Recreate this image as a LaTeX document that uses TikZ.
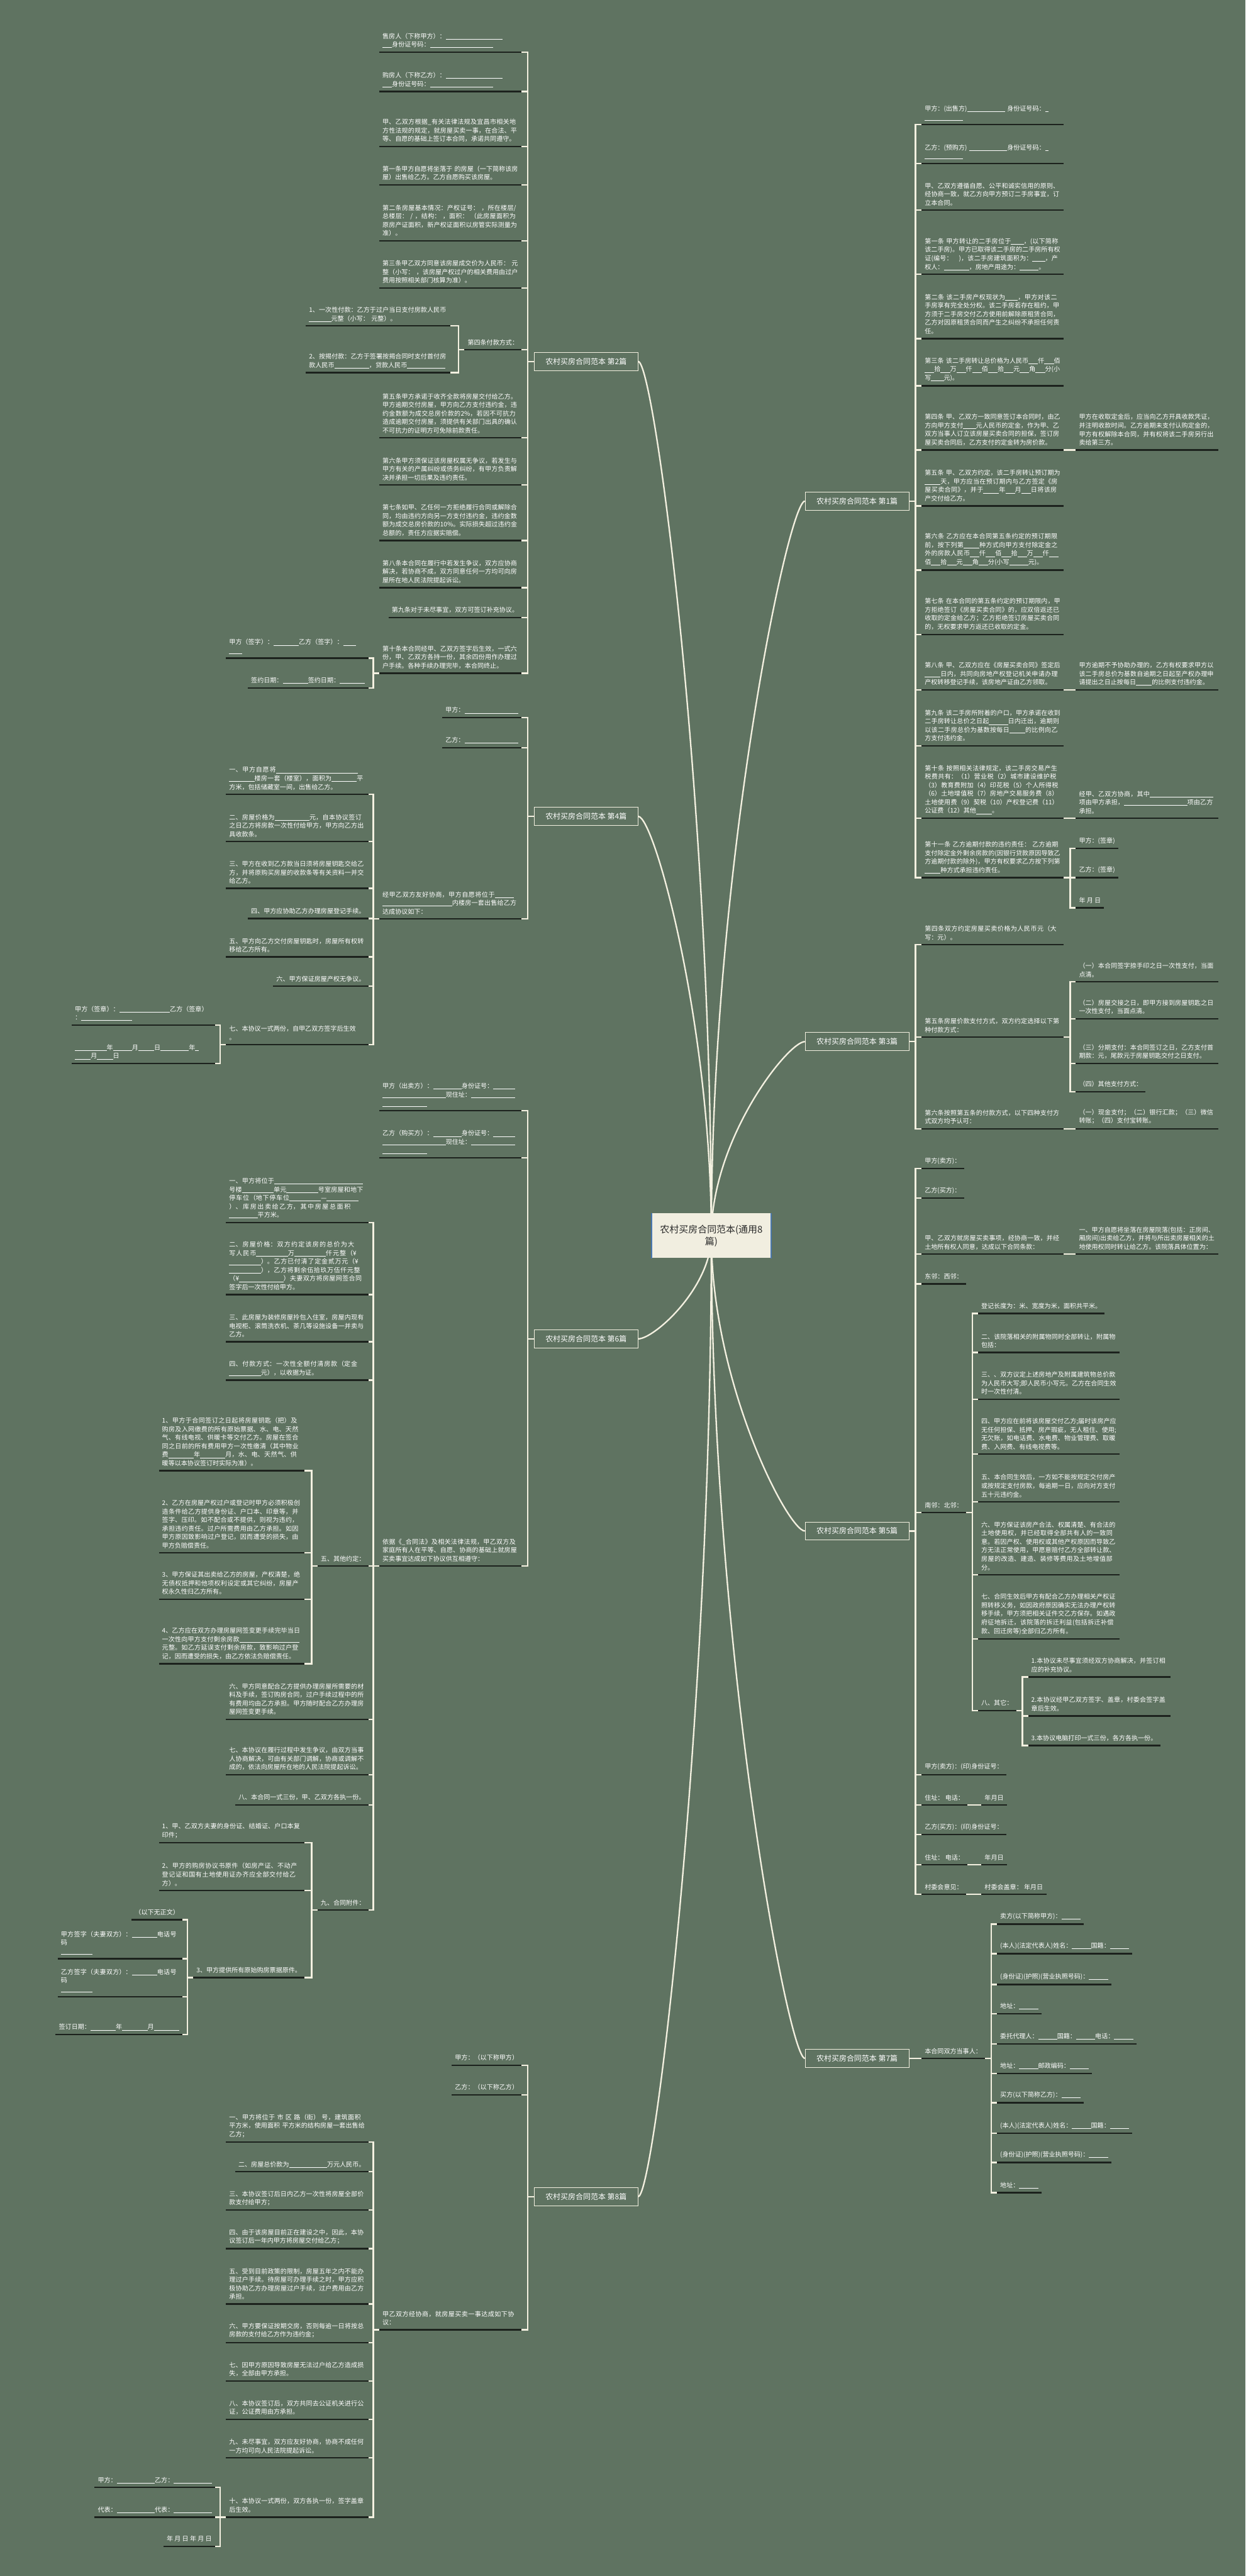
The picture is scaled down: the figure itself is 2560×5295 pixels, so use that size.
\documentclass[tikz,border=0pt]{standalone}
\usepackage{fontspec}
\setmainfont{Noto Sans CJK SC}
\XeTeXlinebreaklocale "zh"
\XeTeXlinebreakskip = 0pt plus 0.5pt
\definecolor{bgc}{HTML}{5F7361}
\definecolor{txc}{HTML}{FFFFFF}
\definecolor{cnc}{HTML}{F3F0E0}
\definecolor{ulc}{HTML}{1C221D}
\definecolor{ctf}{HTML}{F1EEE0}
\definecolor{ctt}{HTML}{2A2A2A}
\definecolor{ctb}{HTML}{4A78B0}
\newcommand\fs{\fontsize{3.7pt}{4.98pt}\selectfont}
\newcommand\fbr{\fontsize{4.4pt}{5.5pt}\selectfont}
\newcommand\fct{\fontsize{5.5pt}{6.9pt}\selectfont}
\newcommand\bl[1]{\hskip0pt\rule[-0.2ex]{#1em}{0.07ex}\hskip0pt\relax}
\pgfdeclarelayer{bglayer}
\pgfsetlayers{bglayer,main}
\tikzset{
  tx/.style={inner xsep=0.06cm, inner ysep=0.085cm, text=txc, font=\fs, align=left},
  lwide/.style={tx, anchor=south east, text width=#1},
  lnat/.style={tx, anchor=south east},
  rwide/.style={tx, anchor=south west, text width=#1},
  rnat/.style={tx, anchor=south west},
  ulline/.style={draw=ulc, line width=0.03cm},
  cnline/.style={draw=cnc, line width=0.03cm},
  crv/.style={draw=cnc, line width=0.03cm},
  brnode/.style={draw=cnc, line width=0.012cm, fill=bgc, text=txc, font=\fbr, minimum width=2.13cm, minimum height=0.37cm, inner sep=0.03cm},
  ctrnode/.style={fill=ctf, text=ctt, font=\fct, minimum width=2.43cm, minimum height=0.92cm, align=center, inner sep=0.03cm},
}
\newcommand\LW[5]{\node[lwide=#4cm] (#1) at (#2,#3) {#5};\draw[ulline] (#1.south west) -- (#1.south east);}
\newcommand\LN[4]{\node[lnat] (#1) at (#2,#3) {#4};\draw[ulline] (#1.south west) -- (#1.south east);}
\newcommand\RW[5]{\node[rwide=#4cm] (#1) at (#2,#3) {#5};\draw[ulline] (#1.south west) -- (#1.south east);}
\newcommand\RN[4]{\node[rnat] (#1) at (#2,#3) {#4};\draw[ulline] (#1.south west) -- (#1.south east);}
\newcommand\BL[3]{\foreach \cn in {#3}{\draw[cnline] (#1) -- ++(-#2,0) |- (\cn.south east);}}
\newcommand\BR[3]{\foreach \cn in {#3}{\draw[cnline] (#1) -- ++(#2,0) |- (\cn.south west);}}
\begin{document}
\begin{tikzpicture}[x=0.01cm, y=-0.01cm]
\useasboundingbox (0,0) rectangle (2560,5295);
\begin{pgfonlayer}{bglayer}
\fill[bgc] (0,0) rectangle (2560,5295);
\end{pgfonlayer}

% ---------- centre and branches ----------
\node[ctrnode] (C) at (1462,2540) {农村买房合同范本(通用8\\篇)};
\draw[ctb, line width=0.025cm] (C.north west) -- (C.south west);
\draw[ctb, line width=0.025cm] (C.north east) -- (C.south east);

\node[brnode] (B1) at (1761.5,1030) {农村买房合同范本 第1篇};
\node[brnode] (B3) at (1761.5,2141) {农村买房合同范本 第3篇};
\node[brnode] (B5) at (1761.5,3147) {农村买房合同范本 第5篇};
\node[brnode] (B7) at (1761.5,4231) {农村买房合同范本 第7篇};
\node[brnode] (B2) at (1204.5,743) {农村买房合同范本 第2篇};
\node[brnode] (B4) at (1204.5,1678) {农村买房合同范本 第4篇};
\node[brnode] (B6) at (1204.5,2752) {农村买房合同范本 第6篇};
\node[brnode] (B8) at (1204.5,4515) {农村买房合同范本 第8篇};

\begin{pgfonlayer}{bglayer}
\draw[crv] (C.center) .. controls (1462,1785) and (1620,1030) .. (B1.west);
\draw[crv] (C.center) .. controls (1462,2340) and (1620,2141) .. (B3.west);
\draw[crv] (C.center) .. controls (1462,2843) and (1620,3147) .. (B5.west);
\draw[crv] (C.center) .. controls (1462,3385) and (1620,4231) .. (B7.west);
\draw[crv] (C.center) .. controls (1462,1641) and (1345,743) .. (B2.east);
\draw[crv] (C.center) .. controls (1462,2109) and (1345,1678) .. (B4.east);
\draw[crv] (C.center) .. controls (1462,2646) and (1345,2752) .. (B6.east);
\draw[crv] (C.center) .. controls (1462,3527) and (1345,4515) .. (B8.east);
\end{pgfonlayer}

% ---------- 第2篇 ----------
\LW{a1}{1072}{107}{2.79}{售房人（下称甲方）：\bl{9}\\\bl{1.5}身份证号码：\bl{10}}
\LW{a2}{1072}{188}{2.79}{购房人（下称乙方）：\bl{9}\\\bl{1.5}身份证号码：\bl{10}}
\LW{a3}{1072}{301}{2.79}{甲、乙双方根据\_有关法律法规及宜昌市相关地方性法规的规定，就房屋买卖一事，在合法、平等、自愿的基础上签订本合同，承诺共同遵守。}
\LW{a4}{1072}{380}{2.79}{第一条甲方自愿将坐落于 的房屋（一下简称该房屋）出售给乙方。乙方自愿购买该房屋。}
\LW{a5}{1072}{495}{2.79}{第二条房屋基本情况：产权证号： ，所在楼层/总楼层： / ，结构： ，面积： （此房屋面积为原房产证面积，新产权证面积以房管实际测量为准）。}
\LW{a6}{1072}{592}{2.79}{第三条甲乙双方同意该房屋成交价为人民币： 元整（小写： ，该房屋产权过户的相关费用由过户费用按照相关部门核算为准）。}
\LN{a7}{1072}{719}{第四条付款方式：}
\LW{a7a}{925}{670}{2.83}{1、一次性付款：乙方于过户当日支付房款人民币\bl{3.5}元整（小写： 元整）。}
\LW{a7b}{925}{766}{2.83}{2、按揭付款：乙方于签署按揭合同时支付首付房款人民币\bl{5.5}，贷款人民币\bl{3}\bl{3}}
\LW{a8}{1072}{900}{2.79}{第五条甲方承诺于收齐全款将房屋交付给乙方。甲方逾期交付房屋，甲方向乙方支付违约金，违约金数额为成交总房价款的2\%，若因不可抗力造成逾期交付房屋，须提供有关部门出具的确认不可抗力的证明方可免除前款责任。}
\LW{a9}{1072}{997}{2.79}{第六条甲方须保证该房屋权属无争议，若发生与甲方有关的产属纠纷或债务纠纷，有甲方负责解决并承担一切后果及违约责任。}
\LW{a10}{1072}{1111}{2.79}{第七条如甲、乙任何一方拒绝履行合同或解除合同，均由违约方向另一方支付违约金，违约金数额为成交总房价款的10\%。实际损失超过违约金总额的，责任方应据实赔偿。}
\LW{a11}{1072}{1208}{2.79}{第八条本合同在履行中若发生争议，双方应协商解决，若协商不成，双方同意任何一方均可向房屋所在地人民法院提起诉讼。}
\LN{a12}{1072}{1269}{第九条对于未尽事宜，双方可签订补充协议。}
\LW{a13}{1072}{1384}{2.79}{第十条本合同经甲、乙双方签字后生效，一式六份，甲、乙双方各持一份，其余四份用作办理过户手续。各种手续办理完毕，本合同终止。}
\LW{a13a}{757}{1353}{2.79}{甲方（签字）：\bl{4}乙方（签字）：\bl{2}\\\bl{2}}
\LN{a13b}{757}{1414}{签约日期：\bl{4}签约日期：\bl{4}}
\BL{B2.west}{13}{a1,a2,a3,a4,a5,a6,a7,a8,a9,a10,a11,a12,a13}
\BL{a7.south west}{12}{a7a,a7b}
\BL{a13.south west}{12}{a13a,a13b}

% ---------- 第4篇 ----------
\LN{b1}{1072}{1475}{甲方：\bl{8.5}}
\LN{b2}{1072}{1537}{乙方：\bl{8.5}}
\LW{b3}{1072}{1889}{2.79}{经甲乙双方友好协商，甲方自愿将位于\bl{3}\bl{11}内楼房一套出售给乙方达成协议如下：}
\LW{b3a}{757}{1633}{2.79}{一、甲方自愿将\bl{13}\bl{4}楼房一套（楼室），面积为\bl{4}平方米，包括储藏室一间，出售给乙方。}
\LW{b3b}{757}{1730}{2.79}{二、房屋价格为\bl{5.5}元，自本协议签订之日乙方将房款一次性付给甲方，甲方向乙方出具收款条。}
\LW{b3c}{757}{1826}{2.79}{三、甲方在收到乙方款当日须将房屋钥匙交给乙方，并将原购买房屋的收款条等有关资料一并交给乙方。}
\LN{b3d}{757}{1888}{四、甲方应协助乙方办理房屋登记手续。}
\LW{b3e}{757}{1967}{2.79}{五、甲方向乙方交付房屋钥匙时，房屋所有权转移给乙方所有。}
\LN{b3f}{757}{2027}{六、甲方保证房屋产权无争议。}
\LW{b3g}{757}{2147}{2.79}{七、本协议一式两份，自甲乙双方签字后生效\\。}
\LW{b3g1}{442}{2107}{2.81}{甲方（签章）：\bl{8}乙方（签章）\\：\bl{8}}
\LW{b3g2}{442}{2186}{2.81}{\bl{5}年\bl{3}月\bl{2.5}日\bl{4.5}年\bl{0.5}\\\bl{2.5}月\bl{2.5}日}
\BL{B4.west}{13}{b1,b2,b3}
\BL{b3.south west}{12}{b3a,b3b,b3c,b3d,b3e,b3f,b3g}
\BL{b3g.south west}{12}{b3g1,b3g2}

% ---------- 第6篇 ----------
\LW{c1}{1072}{2283}{2.79}{甲方（出卖方）：\bl{4.5}身份证号：\bl{3.5}\\\bl{10}现住址：\bl{7}\\\bl{7}}
\LW{c2}{1072}{2380}{2.79}{乙方（购买方）：\bl{4.5}身份证号：\bl{3.5}\\\bl{10}现住址：\bl{7}\\\bl{7}}
\LW{c3}{1072}{3219}{2.79}{依据《\_合同法》及相关法律法规，甲乙双方及家庭所有人在平等、自愿、协商的基础上就房屋买卖事宜达成如下协议供互相遵守：}
\LW{c3a}{757}{2513}{2.79}{一、甲方将位于\bl{14}号楼\bl{5}单元\bl{5}号室房屋和地下停车位（地下停车位\bl{5}—\bl{5}）、库房出卖给乙方，其中房屋总面积\bl{4.5}平方米。}
\LW{c3b}{757}{2661}{2.79}{二、房屋价格：双方约定该房的总价为大写人民币\bl{5}万\bl{5}仟元整（¥\bl{5}）。乙方已付清了定金贰万元（¥\bl{5}），乙方将剩余伍拾玖万伍仟元整（¥\bl{7}）夫妻双方将房屋网签合同签字后一次性付给甲方。}
\LW{c3c}{757}{2758}{2.79}{三、此房屋为装修房屋拎包入住室，房屋内现有电视柜、滚筒洗衣机、茶几等设施设备一并卖与乙方。}
\LW{c3d}{757}{2837}{2.79}{四、付款方式：一次性全额付清房款（定金\bl{5}元），以收据为证。}
\LN{c3e}{757}{3219}{五、其他约定：}
\LW{c3e1}{626}{3023}{2.86}{1、甲方于合同签订之日起将房屋钥匙（把）及购房及入网缴费的所有原始票据、水、电、天然气、有线电视、供暖卡等交付乙方。房屋在签合同之日前的所有费用甲方一次性缴清（其中物业费\bl{4}年\bl{4}月，水、电、天然气、供暖等以本协议签订时实际为准）。}
\LW{c3e2}{626}{3192}{2.86}{2、乙方在房屋产权过户或登记时甲方必须积极创造条件给乙方提供身份证、户口本、印章等，并签字、压印。如不配合或不提供，则视为违约，承担违约责任。过户所需费用由乙方承担。如因甲方原因致影响过户登记，因而遭受的损失，由甲方负赔偿责任。}
\LW{c3e3}{626}{3287}{2.86}{3、甲方保证其出卖给乙方的房屋，产权清楚，绝无债权抵押和他项权利设定或其它纠纷，房屋产权永久性归乙方所有。}
\LW{c3e4}{626}{3420}{2.86}{4、乙方应在双方办理房屋网签变更手续完毕当日一次性向甲方支付剩余房款\bl{7}\bl{2.5}元整。如乙方延误支付剩余房款，致影响过户登记，因而遭受的损失，由乙方依法负赔偿责任。}
\LW{c3f}{757}{3534}{2.79}{六、甲方同意配合乙方提供办理房屋所需要的材料及手续，签订购房合同，过户手续过程中的所有费用均由乙方承担。甲方随时配合乙方办理房屋网签变更手续。}
\LW{c3g}{757}{3648}{2.79}{七、本协议在履行过程中发生争议，由双方当事人协商解决，可由有关部门调解，协商或调解不成的，依法向房屋所在地的人民法院提起诉讼。}
\LN{c3h}{757}{3710}{八、本合同一式三份，甲、乙双方各执一份。}
\LN{c3i}{757}{3926}{九、合同附件：}
\LW{c3i1}{626}{3788}{2.86}{1、甲、乙双方夫妻的身份证、结婚证、户口本复印件；}
\LW{c3i2}{626}{3886}{2.86}{2、甲方的购房协议书原件（如房产证、不动产登记证和国有土地使用证办齐应全部交付给乙方）。}
\LN{c3i3}{626}{4065}{3、甲方提供所有原始购房票据原件。}
\LN{c3i3a}{375}{3946}{（以下无正文）}
\LW{c3i3b}{375}{4026}{2.43}{甲方签字（夫妻双方）：\bl{4}电话号码\\\bl{5}}
\LW{c3i3c}{375}{4104}{2.43}{乙方签字（夫妻双方）：\bl{4}电话号码\\\bl{5}}
\LN{c3i3d}{375}{4182}{签订日期：\bl{4}年\bl{4}月\bl{4}}
\BL{B6.west}{13}{c1,c2,c3}
\BL{c3.south west}{12}{c3a,c3b,c3c,c3d,c3e,c3f,c3g,c3h,c3i}
\BL{c3e.south west}{12}{c3e1,c3e2,c3e3,c3e4}
\BL{c3i.south west}{12}{c3i1,c3i2,c3i3}
\BL{c3i3.south west}{12}{c3i3a,c3i3b,c3i3c,c3i3d}

% ---------- 第8篇 ----------
\LN{d1}{1072}{4245}{甲方：（以下称甲方）}
\LN{d2}{1072}{4306}{乙方：（以下称乙方）}
\LW{d3}{1072}{4789}{2.79}{甲乙双方经协商，就房屋买卖一事达成如下协议：}
\LW{d3a}{757}{4403}{2.79}{一、甲方将位于 市 区 路（街） 号，建筑面积 平方米，使用面积 平方米的结构房屋一套出售给乙方；}
\LN{d3b}{757}{4464}{二、房屋总价款为\bl{6}万元人民币。}
\LW{d3c}{757}{4543}{2.79}{三、本协议签订后日内乙方一次性将房屋全部价款支付给甲方；}
\LW{d3d}{757}{4622}{2.79}{四、由于该房屋目前正在建设之中，因此，本协议签订后一年内甲方将房屋交付给乙方；}
\LW{d3e}{757}{4736}{2.79}{五、受到目前政策的限制，房屋五年之内不能办理过户手续。待房屋可办理手续之时，甲方应积极协助乙方办理房屋过户手续，过户费用由乙方承担。}
\LW{d3f}{757}{4815}{2.79}{六、甲方要保证按期交房，否则每逾一日将按总房款的支付给乙方作为违约金；}
\LW{d3g}{757}{4894}{2.79}{七、因甲方原因导致房屋无法过户给乙方造成损失，全部由甲方承担。}
\LW{d3h}{757}{4973}{2.79}{八、本协议签订后，双方共同去公证机关进行公证，公证费用由方承担。}
\LW{d3i}{757}{5052}{2.79}{九、未尽事宜，双方应友好协商，协商不成任何一方均可向人民法院提起诉讼。}
\LW{d3j}{757}{5174}{2.79}{十、本协议一式两份，双方各执一份，签字盖章后生效。}
\LN{d3j1}{442}{5113}{甲方：\bl{6}乙方：\bl{6}}
\LN{d3j2}{442}{5174}{代表：\bl{6}代表：\bl{6}}
\LN{d3j3}{442}{5234}{年 月 日 年 月 日}
\BL{B8.west}{13}{d1,d2,d3}
\BL{d3.south west}{12}{d3a,d3b,d3c,d3d,d3e,d3f,d3g,d3h,d3i,d3j}
\BL{d3j.south west}{12}{d3j1,d3j2,d3j3}

% ---------- 第1篇 ----------
\RW{e1}{1894}{256}{2.79}{甲方：(出售方)\bl{6} 身份证号码：\bl{0.5}\\\bl{6}}
\RW{e2}{1894}{336}{2.79}{乙方：(预购方) \bl{6}身份证号码：\bl{0.5}\\\bl{6}}
\RW{e3}{1894}{432}{2.79}{甲、乙双方遵循自愿、公平和诚实信用的原则、经协商一致，就乙方向甲方预订二手房事宜，订立本合同。}
\RW{e4}{1894}{564}{2.79}{第一条 甲方转让的二手房位于\bl{2}，(以下简称该二手房)。甲方已取得该二手房的二手房所有权证(编号：　)，该二手房建筑面积为：\bl{2}，产权人：\bl{4}，房地产用途为：\bl{3}。}
\RW{e5}{1894}{696}{2.79}{第二条 该二手房产权现状为\bl{2}，甲方对该二手房享有完全处分权。该二手房若存在租约，甲方须于二手房交付乙方使用前解除原租赁合同，乙方对因原租赁合同而产生之纠纷不承担任何责任。}
\RW{e6}{1894}{793}{2.79}{第三条 该二手房转让总价格为人民币\bl{1.5}仟\bl{1.5}佰\bl{1.5}拾\bl{1.5}万\bl{1.5}仟\bl{1.5}佰\bl{1.5}拾\bl{1.5}元\bl{1.5}角\bl{1.5}分(小写\bl{2}元)。}
\RW{e7}{1894}{925}{2.79}{第四条 甲、乙双方一致同意签订本合同时，由乙方向甲方支付\bl{2}元人民币的定金，作为甲、乙双方当事人订立该房屋买卖合同的担保，签订房屋买卖合同后，乙方支付的定金转为房价款。}
\RW{e7c}{2211}{925}{2.79}{甲方在收取定金后，应当向乙方开具收款凭证，并注明收款时间。乙方逾期未支付认购定金的，甲方有权解除本合同，并有权将该二手房另行出卖给第三方。}
\RW{e8}{1894}{1040}{2.79}{第五条 甲、乙双方约定，该二手房转让预订期为\bl{2.5}天，甲方应当在预订期内与乙方签定《房屋买卖合同》，并于\bl{2.5}年\bl{1.5}月\bl{1.5}日将该房产交付给乙方。}
\RW{e9}{1894}{1172}{2.79}{第六条 乙方应在本合同第五条约定的预订期限前，按下列第\bl{2.5}种方式向甲方支付除定金之外的房款人民币\bl{1.5}仟\bl{1.5}佰\bl{1.5}拾\bl{1.5}万\bl{1.5}仟\bl{1.5}佰\bl{1.5}拾\bl{1.5}元\bl{1.5}角\bl{1.5}分(小写\bl{3}元)。}
\RW{e10}{1894}{1304}{2.79}{第七条 在本合同的第五条约定的预订期限内，甲方拒绝签订《房屋买卖合同》的，应双倍返还已收取的定金给乙方；乙方拒绝签订房屋买卖合同的，无权要求甲方返还已收取的定金。}
\RW{e11}{1894}{1418}{2.79}{第八条 甲、乙双方应在《房屋买卖合同》签定后\bl{2.5}日内，共同向房地产权登记机关申请办理产权转移登记手续，该房地产证由乙方领取。}
\RW{e11c}{2211}{1418}{2.79}{甲方逾期不予协助办理的，乙方有权要求甲方以该二手房总价为基数自逾期之日起至产权办理申请提出之日止按每日\bl{2.5}的比例支付违约金。}
\RW{e12}{1894}{1533}{2.79}{第九条 该二手房所附着的户口，甲方承诺在收到二手房转让总价之日起\bl{3}日内迁出，逾期则以该二手房总价为基数按每日\bl{2.5}的比例向乙方支付违约金。}
\RW{e13}{1894}{1682}{2.79}{第十条 按照相关法律规定，该二手房交易产生税费共有：（1）营业税（2）城市建设维护税（3）教育费附加（4）印花税（5）个人所得税（6）土地增值税（7）房地产交易服务费（8）土地使用费（9）契税（10）产权登记费（11）公证费（12）其他\bl{2.5}。}
\RW{e13c}{2211}{1682}{2.79}{经甲、乙双方协商，其中\bl{10}项由甲方承担，\bl{10}项由乙方承担。}
\RW{e14}{1894}{1804}{2.79}{第十一条 乙方逾期付款的违约责任： 乙方逾期支付除定金外剩余房款的(因银行贷款原因导致乙方逾期付款的除外)，甲方有权要求乙方按下列第\bl{2.5}种方式承担违约责任。}
\RN{e14a}{2211}{1744}{甲方：(签章)}
\RN{e14b}{2211}{1804}{乙方：(签章)}
\RN{e14c}{2211}{1866}{年 月 日}
\BR{B1.east}{13}{e1,e2,e3,e4,e5,e6,e7,e8,e9,e10,e11,e12,e13,e14}
\draw[cnline] (e7.south east) -- (e7c.south west);
\draw[cnline] (e11.south east) -- (e11c.south west);
\draw[cnline] (e13.south east) -- (e13c.south west);
\BR{e14.south east}{13}{e14a,e14b,e14c}

% ---------- 第3篇 ----------
\RW{f1}{1894}{1942}{2.79}{第四条双方约定房屋买卖价格为人民币元（大写：元）。}
\RW{f2}{1894}{2132}{2.79}{第五条房屋价款支付方式，双方约定选择以下第种付款方式：}
\RW{f2a}{2211}{2018}{2.79}{（一）本合同签字捺手印之日一次性支付，当面点清。}
\RW{f2b}{2211}{2094}{2.79}{（二）房屋交接之日，即甲方接到房屋钥匙之日一次性支付，当面点清。}
\RW{f2c}{2211}{2186}{2.79}{（三）分期支付：本合同签订之日，乙方支付首期款：元，尾款元于房屋钥匙交付之日支付。}
\RN{f2d}{2211}{2244}{（四）其他支付方式：}
\RW{f3}{1894}{2320}{2.79}{第六条按照第五条的付款方式，以下四种支付方式双方均予认可：}
\RW{f3c}{2211}{2320}{2.79}{（一）现金支付；（二）银行汇款；（三）微信转账；（四）支付宝转账。}
\BR{B3.east}{13}{f1,f2,f3}
\BR{f2.south east}{13}{f2a,f2b,f2c,f2d}
\draw[cnline] (f3.south east) -- (f3c.south west);

% ---------- 第5篇 ----------
\RN{g1}{1894}{2402}{甲方(卖方)：}
\RN{g2}{1894}{2463}{乙方(买方)：}
\RW{g3}{1894}{2578}{2.79}{甲、乙双方就房屋买卖事项，经协商一致，并经土地所有权人同意，达成以下合同条款：}
\RW{g3c}{2211}{2578}{2.79}{一、甲方自愿将坐落在房屋院落(包括：正房间、厢房间)出卖给乙方，并将与所出卖房屋相关的土地使用权同时转让给乙方。该院落具体位置为：}
\RN{g4}{1894}{2639}{东邻：西邻：}
\RN{g5}{1894}{3109}{南邻：北邻：}
\RN{g5a}{2010}{2700}{登记长度为：米、宽度为米，面积共平米。}
\RW{g5b}{2010}{2780}{2.78}{二、该院落相关的附属物同时全部转让，附属物包括：}
\RW{g5c}{2010}{2876}{2.78}{三、、双方议定上述房地产及附属建筑物总价款为人民币大写;即人民币小写元。乙方在合同生效时一次性付清。}
\RW{g5d}{2010}{2989}{2.78}{四、甲方应在前将该房屋交付乙方;届时该房产应无任何担保、抵押、房产瑕疵，无人租住、使用;无欠账，如电话费、水电费、物业管理费、取暖费、入网费、有线电视费等。}
\RW{g5e}{2010}{3087}{2.78}{五、本合同生效后，一方如不能按规定交付房产或按规定支付房款，每逾期一日，应向对方支付五十元违约金。}
\RW{g5f}{2010}{3237}{2.78}{六、甲方保证该房产合法、权属清楚、有合法的土地使用权，并已经取得全部共有人的一致同意。若因产权、使用权或其他产权原因而导致乙方无法正常使用，甲愿意赔付乙方全部转让款、房屋的改造、建造、装修等费用及土地增值部分。}
\RW{g5g}{2010}{3369}{2.78}{七、合同生效后甲方有配合乙方办理相关产权证照转移义务，如因政府原因确实无法办理产权转移手续，甲方须把相关证件交乙方保存。如遇政府征地拆迁，该院落的拆迁利益(包括拆迁补偿款、回迁房等)全部归乙方所有。}
\RN{g5h}{2010}{3516}{八、其它：}
\RW{g5h1}{2113}{3447}{2.79}{1.本协议未尽事宜须经双方协商解决，并签订相应的补充协议。}
\RW{g5h2}{2113}{3527}{2.79}{2.本协议经甲乙双方签字、盖章，村委会签字盖章后生效。}
\RN{g5h3}{2113}{3588}{3.本协议电脑打印一式三份，各方各执一份。}
\RN{g6}{1894}{3648}{甲方(卖方)：(印)身份证号：}
\RN{g7}{1894}{3710}{住址： 电话：}
\RN{g7c}{2017}{3710}{年月日}
\RN{g8}{1894}{3771}{乙方(买方)：(印)身份证号：}
\RN{g9}{1894}{3833}{住址： 电话：}
\RN{g9c}{2017}{3833}{年月日}
\RN{g10}{1894}{3894}{村委会意见：}
\RN{g10c}{2017}{3894}{村委会盖章： 年月日}
\BR{B5.east}{13}{g1,g2,g3,g4,g5,g6,g7,g8,g9,g10}
\draw[cnline] (g3.south east) -- (g3c.south west);
\BR{g5.south east}{13}{g5a,g5b,g5c,g5d,g5e,g5f,g5g,g5h}
\BR{g5h.south east}{13}{g5h1,g5h2,g5h3}
\draw[cnline] (g7.south east) -- (g7c.south west);
\draw[cnline] (g9.south east) -- (g9c.south west);
\draw[cnline] (g10.south east) -- (g10c.south west);

% ---------- 第7篇 ----------
\RN{h0}{1894}{4231}{本合同双方当事人：}
\RN{h1}{2049}{3955}{卖方(以下简称甲方)：\bl{3}}
\RN{h2}{2049}{4016}{(本人)(法定代表人)姓名：\bl{3}国籍：\bl{3}}
\RN{h3}{2049}{4079}{(身份证)(护照)(营业执照号码)：\bl{3}}
\RN{h4}{2049}{4139}{地址：\bl{3}}
\RN{h5}{2049}{4201}{委托代理人：\bl{3}国籍：\bl{3}电话：\bl{3}}
\RN{h6}{2049}{4262}{地址：\bl{3}邮政编码：\bl{3}}
\RN{h7}{2049}{4322}{买方(以下简称乙方)：\bl{3}}
\RN{h8}{2049}{4385}{(本人)(法定代表人)姓名：\bl{3}国籍：\bl{3}}
\RN{h9}{2049}{4445}{(身份证)(护照)(营业执照号码)：\bl{3}}
\RN{h10}{2049}{4507}{地址：\bl{3}}
\draw[cnline] (B7.east) -- (h0.south west);
\BR{h0.south east}{13}{h1,h2,h3,h4,h5,h6,h7,h8,h9,h10}
\end{tikzpicture}
\end{document}
